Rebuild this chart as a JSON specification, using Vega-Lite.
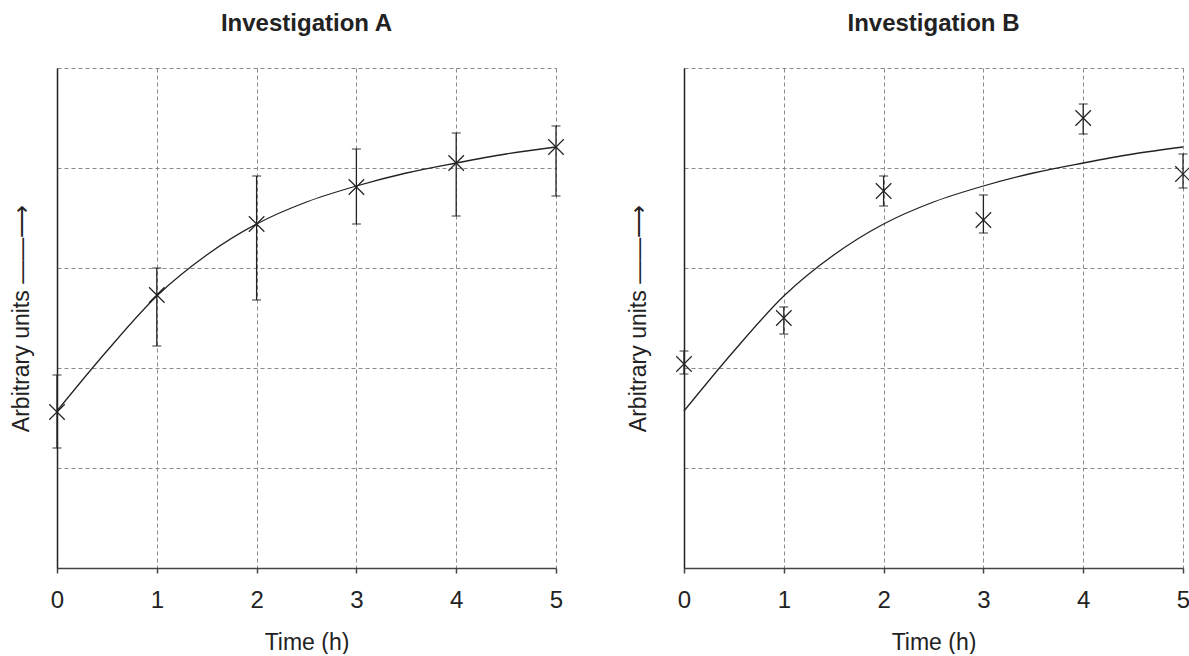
{
  "$schema": "https://vega.github.io/schema/vega-lite/v6.json",
  "background": "white",
  "padding": {"left": 10, "top": 12, "right": 0, "bottom": 0},
  "spacing": 60,
  "datasets": {
    "curve": [
      {"panel": "A", "t": 0, "v": 1.57}, {"panel": "A", "t": 0.5, "v": 2.17}, {"panel": "A", "t": 1, "v": 2.72},
      {"panel": "A", "t": 1.5, "v": 3.13}, {"panel": "A", "t": 2, "v": 3.44}, {"panel": "A", "t": 2.5, "v": 3.66},
      {"panel": "A", "t": 3, "v": 3.82}, {"panel": "A", "t": 3.5, "v": 3.95}, {"panel": "A", "t": 4, "v": 4.05},
      {"panel": "A", "t": 4.5, "v": 4.14}, {"panel": "A", "t": 5, "v": 4.21},
      {"panel": "B", "t": 0, "v": 1.57}, {"panel": "B", "t": 0.5, "v": 2.17}, {"panel": "B", "t": 1, "v": 2.72},
      {"panel": "B", "t": 1.5, "v": 3.13}, {"panel": "B", "t": 2, "v": 3.44}, {"panel": "B", "t": 2.5, "v": 3.66},
      {"panel": "B", "t": 3, "v": 3.82}, {"panel": "B", "t": 3.5, "v": 3.95}, {"panel": "B", "t": 4, "v": 4.05},
      {"panel": "B", "t": 4.5, "v": 4.14}, {"panel": "B", "t": 5, "v": 4.21}
    ],
    "points": [
      {"panel": "A", "t": 0, "v": 1.56, "lo": 1.20, "hi": 1.93},
      {"panel": "A", "t": 1, "v": 2.73, "lo": 2.22, "hi": 3.00},
      {"panel": "A", "t": 2, "v": 3.44, "lo": 2.68, "hi": 3.92},
      {"panel": "A", "t": 3, "v": 3.81, "lo": 3.44, "hi": 4.19},
      {"panel": "A", "t": 4, "v": 4.05, "lo": 3.52, "hi": 4.35},
      {"panel": "A", "t": 5, "v": 4.21, "lo": 3.72, "hi": 4.42},
      {"panel": "B", "t": 0, "v": 2.04, "lo": 1.94, "hi": 2.17},
      {"panel": "B", "t": 1, "v": 2.50, "lo": 2.34, "hi": 2.61},
      {"panel": "B", "t": 2, "v": 3.77, "lo": 3.62, "hi": 3.92},
      {"panel": "B", "t": 3, "v": 3.48, "lo": 3.35, "hi": 3.73},
      {"panel": "B", "t": 4, "v": 4.50, "lo": 4.34, "hi": 4.64},
      {"panel": "B", "t": 5, "v": 3.94, "lo": 3.80, "hi": 4.14}
    ]
  },
  "config": {
    "font": "Liberation Sans",
    "view": {"stroke": null},
    "title": {"font": "Liberation Sans", "fontSize": 24, "fontWeight": "bold", "color": "#222", "offset": 32, "anchor": "middle"},
    "axisX": {
      "grid": true, "gridDash": [4, 3], "gridColor": "#8a8a8a", "gridWidth": 1,
      "domainColor": "#444", "domainWidth": 1.5,
      "tickColor": "#444", "tickSize": 5, "tickWidth": 1.5,
      "labelFont": "Liberation Sans", "labelFontSize": 24, "labelColor": "#222", "labelPadding": 15,
      "labelFlush": false, "labelOverlap": false,
      "titleFont": "Liberation Sans", "titleFontSize": 23, "titleFontWeight": "normal", "titleColor": "#222", "titlePadding": 19
    },
    "axisY": {
      "grid": true, "gridDash": [4, 3], "gridColor": "#8a8a8a", "gridWidth": 1,
      "domainColor": "#222", "domainWidth": 1.5,
      "ticks": false, "labels": false,
      "titleFont": "Liberation Sans", "titleFontSize": 23, "titleFontWeight": "normal", "titleColor": "#222"
    }
  },
  "hconcat": [
    {
      "width": 499, "height": 500,
      "title": "Investigation A",
      "layer": [
        {
          "data": {"name": "curve"},
          "transform": [{"filter": "datum.panel === 'A'"}],
          "mark": {"type": "line", "interpolate": "monotone", "color": "#222", "strokeWidth": 1.3},
          "encoding": {
            "x": {"field": "t", "type": "quantitative", "scale": {"domain": [0, 5]}, "title": "Time (h)", "axis": {"values": [0, 1, 2, 3, 4, 5], "format": "d"}},
            "y": {"field": "v", "type": "quantitative", "scale": {"domain": [0, 5]}, "title": "Arbitrary units  ——⟶", "axis": {"values": [0, 1, 2, 3, 4, 5], "titlePadding": 24}}
          }
        },
        {
          "data": {"name": "points"},
          "transform": [{"filter": "datum.panel === 'A'"}],
          "mark": {"type": "rule", "color": "#222", "strokeWidth": 1.3},
          "encoding": {
            "x": {"field": "t", "type": "quantitative"},
            "y": {"field": "lo", "type": "quantitative"},
            "y2": {"field": "hi"}
          }
        },
        {
          "data": {"name": "points"},
          "transform": [{"filter": "datum.panel === 'A'"}],
          "mark": {"type": "tick", "orient": "horizontal", "color": "#222", "size": 9, "thickness": 1.3},
          "encoding": {
            "x": {"field": "t", "type": "quantitative"},
            "y": {"field": "lo", "type": "quantitative"}
          }
        },
        {
          "data": {"name": "points"},
          "transform": [{"filter": "datum.panel === 'A'"}],
          "mark": {"type": "tick", "orient": "horizontal", "color": "#222", "size": 9, "thickness": 1.3},
          "encoding": {
            "x": {"field": "t", "type": "quantitative"},
            "y": {"field": "hi", "type": "quantitative"}
          }
        },
        {
          "data": {"name": "points"},
          "transform": [{"filter": "datum.panel === 'A'"}],
          "mark": {"type": "point", "shape": "M-1,-1L1,1M-1,1L1,-1", "filled": false, "stroke": "#222", "strokeWidth": 1.2, "size": 240, "opacity": 1},
          "encoding": {
            "x": {"field": "t", "type": "quantitative"},
            "y": {"field": "v", "type": "quantitative"}
          }
        }
      ]
    },
    {
      "width": 499, "height": 500,
      "title": "Investigation B",
      "layer": [
        {
          "data": {"name": "curve"},
          "transform": [{"filter": "datum.panel === 'B'"}],
          "mark": {"type": "line", "interpolate": "monotone", "color": "#222", "strokeWidth": 1.3},
          "encoding": {
            "x": {"field": "t", "type": "quantitative", "scale": {"domain": [0, 5]}, "title": "Time (h)", "axis": {"values": [0, 1, 2, 3, 4, 5], "format": "d"}},
            "y": {"field": "v", "type": "quantitative", "scale": {"domain": [0, 5]}, "title": "Arbitrary units  ——⟶", "axis": {"values": [0, 1, 2, 3, 4, 5], "titlePadding": 34}}
          }
        },
        {
          "data": {"name": "points"},
          "transform": [{"filter": "datum.panel === 'B'"}],
          "mark": {"type": "rule", "color": "#222", "strokeWidth": 1.3},
          "encoding": {
            "x": {"field": "t", "type": "quantitative"},
            "y": {"field": "lo", "type": "quantitative"},
            "y2": {"field": "hi"}
          }
        },
        {
          "data": {"name": "points"},
          "transform": [{"filter": "datum.panel === 'B'"}],
          "mark": {"type": "tick", "orient": "horizontal", "color": "#222", "size": 9, "thickness": 1.3},
          "encoding": {
            "x": {"field": "t", "type": "quantitative"},
            "y": {"field": "lo", "type": "quantitative"}
          }
        },
        {
          "data": {"name": "points"},
          "transform": [{"filter": "datum.panel === 'B'"}],
          "mark": {"type": "tick", "orient": "horizontal", "color": "#222", "size": 9, "thickness": 1.3},
          "encoding": {
            "x": {"field": "t", "type": "quantitative"},
            "y": {"field": "hi", "type": "quantitative"}
          }
        },
        {
          "data": {"name": "points"},
          "transform": [{"filter": "datum.panel === 'B'"}],
          "mark": {"type": "point", "shape": "M-1,-1L1,1M-1,1L1,-1", "filled": false, "stroke": "#222", "strokeWidth": 1.2, "size": 240, "opacity": 1},
          "encoding": {
            "x": {"field": "t", "type": "quantitative"},
            "y": {"field": "v", "type": "quantitative"}
          }
        }
      ]
    }
  ]
}
